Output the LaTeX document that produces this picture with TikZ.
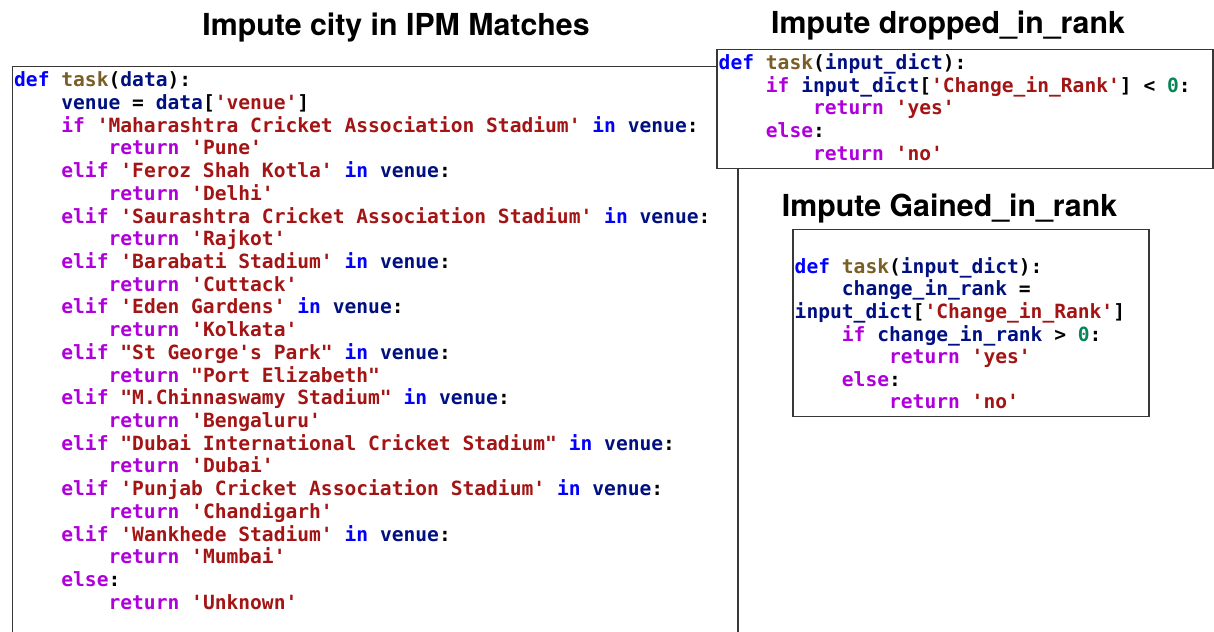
\documentclass[tikz,border=0pt]{standalone}
\usepackage{fontspec}
\setmonofont{DejaVu Sans Mono}
\newfontfamily\titlefont{TeX Gyre Heros}
\definecolor{cdef}{RGB}{0,0,255}
\definecolor{cfn}{RGB}{121,94,38}
\definecolor{cvar}{RGB}{0,16,128}
\definecolor{cstr}{RGB}{163,21,21}
\definecolor{cctl}{RGB}{175,0,219}
\definecolor{cnum}{RGB}{9,134,88}
\definecolor{boxline}{RGB}{55,55,55}
\newcommand\cK[1]{\textcolor{cdef}{#1}}
\newcommand\cF[1]{\textcolor{cfn}{#1}}
\newcommand\cV[1]{\textcolor{cvar}{#1}}
\newcommand\cS[1]{\textcolor{cstr}{#1}}
\newcommand\cC[1]{\textcolor{cctl}{#1}}
\newcommand\cN[1]{\textcolor{cnum}{#1}}
\newcommand\IA{\hphantom{xxxx}}
\newcommand\IB{\hphantom{xxxxxxxx}}
\tikzset{
  code/.style={anchor=base west, inner sep=0pt, align=left},
  ttl/.style={anchor=base, inner sep=0pt, font=\titlefont\bfseries\fontsize{30.3bp}{36bp}\selectfont},
  boxframe/.style={draw=boxline, line width=1.2bp},
}
\begin{document}
\begin{tikzpicture}[x=1bp,y=-1bp]
\useasboundingbox (0,0) rectangle (1214,632);

% titles
\node[ttl] (t1) at (396,36) {Impute city in IPM Matches};
\node[ttl] (t2) at (948,34) {Impute dropped\_in\_rank};
\node[ttl] (t3) at (949.5,217) {Impute Gained\_in\_rank};

% left box (extends below the picture)
\draw[boxframe] (12.5,632) -- (12.5,66.5) -- (738,66.5) -- (738,632);

\node[code] (c1) at (14,86.7) {\ttfamily\bfseries\fontsize{19.6bp}{22.68bp}\selectfont
\begin{tabular}[t]{@{}l@{}}
\cK{def} \cF{task}(\cV{data}):\\
\IA\cV{venue} = \cV{data}[\cS{'venue'}]\\
\IA\cC{if} \cS{'Maharashtra Cricket Association Stadium'} \cK{in} \cV{venue}:\\
\IB\cC{return} \cS{'Pune'}\\
\IA\cC{elif} \cS{'Feroz Shah Kotla'} \cK{in} \cV{venue}:\\
\IB\cC{return} \cS{'Delhi'}\\
\IA\cC{elif} \cS{'Saurashtra Cricket Association Stadium'} \cK{in} \cV{venue}:\\
\IB\cC{return} \cS{'Rajkot'}\\
\IA\cC{elif} \cS{'Barabati Stadium'} \cK{in} \cV{venue}:\\
\IB\cC{return} \cS{'Cuttack'}\\
\IA\cC{elif} \cS{'Eden Gardens'} \cK{in} \cV{venue}:\\
\IB\cC{return} \cS{'Kolkata'}\\
\IA\cC{elif} \cS{"St George's Park"} \cK{in} \cV{venue}:\\
\IB\cC{return} \cS{"Port Elizabeth"}\\
\IA\cC{elif} \cS{"M.Chinnaswamy Stadium"} \cK{in} \cV{venue}:\\
\IB\cC{return} \cS{'Bengaluru'}\\
\IA\cC{elif} \cS{"Dubai International Cricket Stadium"} \cK{in} \cV{venue}:\\
\IB\cC{return} \cS{'Dubai'}\\
\IA\cC{elif} \cS{'Punjab Cricket Association Stadium'} \cK{in} \cV{venue}:\\
\IB\cC{return} \cS{'Chandigarh'}\\
\IA\cC{elif} \cS{'Wankhede Stadium'} \cK{in} \cV{venue}:\\
\IB\cC{return} \cS{'Mumbai'}\\
\IA\cC{else}:\\
\IB\cC{return} \cS{'Unknown'}
\end{tabular}};

% dropped box
\draw[boxframe, fill=white] (717,49.3) rectangle (1213,168.3);
\node[code] (c2) at (718.5,69.3) {\ttfamily\bfseries\fontsize{19.6bp}{22.85bp}\selectfont
\begin{tabular}[t]{@{}l@{}}
\cK{def} \cF{task}(\cV{input\_dict}):\\
\IA\cC{if} \cV{input\_dict}[\cS{'Change\_in\_Rank'}] < \cN{0}:\\
\IB\cC{return} \cS{'yes'}\\
\IA\cC{else}:\\
\IB\cC{return} \cS{'no'}
\end{tabular}};

% gained box
\draw[boxframe, fill=white] (793,229.3) rectangle (1149,416.7);
\node[code] (c3) at (794.5,273.3) {\ttfamily\bfseries\fontsize{19.6bp}{22.5bp}\selectfont
\begin{tabular}[t]{@{}l@{}}
\cK{def} \cF{task}(\cV{input\_dict}):\\
\IA\cV{change\_in\_rank} =\\
\cV{input\_dict}[\cS{'Change\_in\_Rank'}]\\
\IA\cC{if} \cV{change\_in\_rank} > \cN{0}:\\
\IB\cC{return} \cS{'yes'}\\
\IA\cC{else}:\\
\IB\cC{return} \cS{'no'}
\end{tabular}};
\end{tikzpicture}
\end{document}
